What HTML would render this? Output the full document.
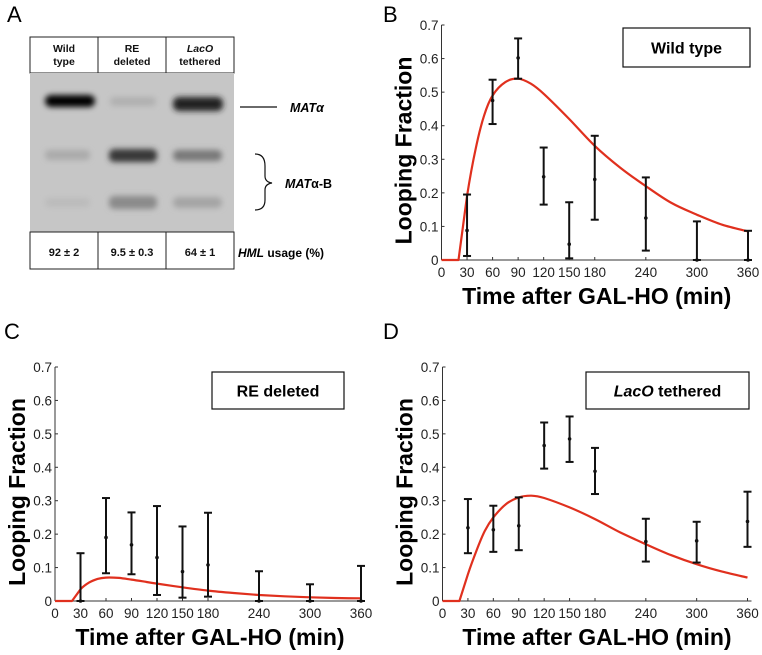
<!DOCTYPE html>
<html><head><meta charset="utf-8">
<style>
html,body{margin:0;padding:0;background:#fff;}
svg{display:block;font-family:"Liberation Sans",Arial,sans-serif;}
</style></head>
<body>
<svg id="fig" width="762" height="655" viewBox="0 0 762 655">
<defs>
<filter id="blur" x="-30%" y="-100%" width="160%" height="300%"><feGaussianBlur stdDeviation="3"/></filter>
</defs>
<g>
<text x="7" y="22" font-size="22">A</text>
<rect x="30" y="37" width="204" height="36" fill="#fff" stroke="#222" stroke-width="1"/>
<line x1="98" y1="37" x2="98" y2="73" stroke="#222"/>
<line x1="166" y1="37" x2="166" y2="73" stroke="#222"/>
<g font-size="10.5" font-weight="bold" text-anchor="middle" fill="#111">
<text x="64" y="52"><tspan x="64">Wild</tspan><tspan x="64" dy="13">type</tspan></text>
<text x="132" y="52"><tspan x="132">RE</tspan><tspan x="132" dy="13">deleted</tspan></text>
<text x="200" y="52"><tspan x="200" font-style="italic">LacO</tspan><tspan x="200" dy="13">tethered</tspan></text>
</g>
<rect x="30" y="73" width="204" height="159" fill="#c6c6c6"/>
<g filter="url(#blur)">
<rect x="45" y="95" width="50" height="12" rx="6" fill="#050505"/>
<rect x="110" y="97" width="46" height="9" rx="4" fill="#b0b0b0"/>
<rect x="173" y="97" width="50" height="14" rx="6" fill="#202020"/>
<rect x="45" y="150" width="45" height="10" rx="4" fill="#aaaaaa"/>
<rect x="109" y="149" width="48" height="13" rx="5" fill="#383838"/>
<rect x="173" y="150" width="49" height="11" rx="5" fill="#787878"/>
<rect x="45" y="198" width="45" height="9" rx="4" fill="#bbbbbb"/>
<rect x="109" y="196" width="48" height="13" rx="5" fill="#8a8a8a"/>
<rect x="173" y="197" width="49" height="11" rx="5" fill="#a4a4a4"/>
</g>
<rect x="30" y="232" width="204" height="37" fill="#fff" stroke="#222"/>
<line x1="98" y1="232" x2="98" y2="269" stroke="#222"/>
<line x1="166" y1="232" x2="166" y2="269" stroke="#222"/>
<g font-size="11" font-weight="bold" text-anchor="middle" fill="#111">
<text x="64" y="256">92 ± 2</text>
<text x="132" y="256">9.5 ± 0.3</text>
<text x="200" y="256">64 ± 1</text>
</g>
<text x="238" y="257" font-size="12" font-weight="bold"><tspan font-style="italic">HML</tspan> usage (%)</text>
<line x1="240" y1="107" x2="277" y2="107" stroke="#111" stroke-width="1.2"/>
<text x="290" y="112" font-size="12.5" font-weight="bold" font-style="italic">MATα</text>
<path d="M255,154 Q265,154 265,166 L265,176 Q265,182 272,183 Q265,184 265,190 L265,200 Q265,210 255,210" fill="none" stroke="#111" stroke-width="1.2"/>
<text x="285" y="188" font-size="12.5" font-weight="bold"><tspan font-style="italic">MAT</tspan>α-B</text>
</g>
<g id="pB"></g>
<g id="pC"></g>
<g id="pD"></g>
</svg>
<script>
const tickTimes = [0,30,60,90,120,150,180,240,300,360];
const tickFracs = [0,0.1,0.2,0.3,0.4,0.5,0.6,0.7];
const sampleTimes = [0,20,30,40,50,60,75,90,105,120,150,180,210,240,270,300,330,360];
const fitWild = [0,0,0.19,0.33,0.43,0.49,0.53,0.54,0.525,0.495,0.42,0.34,0.275,0.22,0.17,0.135,0.105,0.085];
const fitRE = [0,0,0.035,0.055,0.066,0.07,0.069,0.064,0.058,0.052,0.041,0.031,0.024,0.018,0.014,0.011,0.009,0.008];
const fitLacO = [0,0,0.08,0.15,0.21,0.25,0.29,0.31,0.315,0.308,0.28,0.245,0.205,0.17,0.137,0.11,0.088,0.07];
const obsTimes = [30,60,90,120,150,180,240,300,360];
const wildMean = [0.088,0.475,0.602,0.248,0.047,0.24,0.125,0,0];
const wildLow  = [0.012,0.405,0.54,0.165,0.005,0.12,0.028,0,0];
const wildHigh = [0.195,0.537,0.66,0.335,0.172,0.37,0.246,0.115,0.087];
const reMean = [0,0.19,0.168,0.13,0.088,0.108,0,0,0];
const reLow  = [0,0.083,0.08,0.018,0.01,0.013,0,0,0];
const reHigh = [0.143,0.308,0.265,0.284,0.223,0.264,0.089,0.05,0.105];
const lacMean = [0.219,0.213,0.225,0.465,0.485,0.388,0.178,0.18,0.238];
const lacLow  = [0.143,0.147,0.152,0.396,0.416,0.32,0.118,0.115,0.162];
const lacHigh = [0.305,0.285,0.31,0.534,0.552,0.458,0.246,0.237,0.327];

const NS="http://www.w3.org/2000/svg";
function mk(tag, attrs, parent){const e=document.createElementNS(NS,tag);for(const k in attrs)e.setAttribute(k,attrs[k]);parent.appendChild(e);return e;}

function smoothPath(pts){
  let d='M'+pts[0][0].toFixed(1)+','+pts[0][1].toFixed(1);
  for(let i=0;i<pts.length-1;i++){
    const p0=pts[Math.max(0,i-1)],p1=pts[i],p2=pts[i+1],p3=pts[Math.min(pts.length-1,i+2)];
    // keep flat segment before onset straight
    if(i<=1){d+='L'+p2[0].toFixed(1)+','+p2[1].toFixed(1);continue;}
    const c1=[p1[0]+(p2[0]-p0[0])/6,p1[1]+(p2[1]-p0[1])/6];
    const c2=[p2[0]-(p3[0]-p1[0])/6,p2[1]-(p3[1]-p1[1])/6];
    d+='C'+c1.map(v=>v.toFixed(1)).join(',')+' '+c2.map(v=>v.toFixed(1)).join(',')+' '+p2[0].toFixed(1)+','+p2[1].toFixed(1);
  }
  return d;
}

function panel(gid, letter, lx, ly, x0, x1, y0, y1, fit, mean, low, high, legendBox, legendHTML){
  const g=document.getElementById(gid);
  const X=t=>x0+(t/360)*(x1-x0);
  const Y=v=>y0-(v/0.7)*(y0-y1);
  const L=mk('text',{x:lx,y:ly,'font-size':22},g);L.textContent=letter;
  
  
  const ya=mk('line',{x1:x0,y1:y0,x2:x0,y2:y1,stroke:'#333','stroke-width':1},g);
  
  
  const xa=mk('line',{x1:x0,y1:y0,x2:x1+4,y2:y0,stroke:'#333','stroke-width':1},g);
  
  
  tickFracs.forEach(v=>{
    mk('line',{x1:x0,y1:Y(v),x2:x0+3,y2:Y(v),stroke:'#333'},g);
    const t=mk('text',{x:x0-3,y:Y(v)+5,'font-size':13.5,'text-anchor':'end',fill:'#222'},g);
    t.textContent=String(v);
    
    
  });
  tickTimes.forEach(v=>{
    mk('line',{x1:X(v),y1:y0,x2:X(v),y2:y0-3,stroke:'#333'},g);
    const t=mk('text',{x:X(v),y:y0+17,'font-size':13.5,'text-anchor':'middle',fill:'#222'},g);
    t.textContent=String(v);
    
    
  });
  const yt=mk('text',{transform:`translate(${x0-30},${(y0+y1)/2+8}) rotate(-90)`,'font-size':23,'font-weight':'bold','text-anchor':'middle'},g);
  yt.textContent='Looping Fraction';
  
  
  const xt=mk('text',{x:(x0+x1)/2+2,y:y0+44,'font-size':23,'font-weight':'bold','text-anchor':'middle'},g);
  xt.textContent='Time after GAL-HO (min)';
  
  
  const pts=sampleTimes.map((t,i)=>[X(t),Y(fit[i])]);
  const p=mk('path',{d:smoothPath(pts),fill:'none',stroke:'#e0301e','stroke-width':2.2,'stroke-linejoin':'round'},g);
  
  
  obsTimes.forEach((t,i)=>{
    const eg=mk('g',{stroke:'#111','stroke-width':2},g);
    
    
    const x=X(t);
    mk('line',{x1:x,y1:Y(low[i]),x2:x,y2:Y(high[i])},eg);
    mk('line',{x1:x-4,y1:Y(low[i]),x2:x+4,y2:Y(low[i])},eg);
    mk('line',{x1:x-4,y1:Y(high[i]),x2:x+4,y2:Y(high[i])},eg);
    mk('circle',{cx:x,cy:Y(mean[i]),r:1.8,fill:'#111',stroke:'none'},eg);
  });
  const lb=mk('rect',{x:legendBox[0],y:legendBox[1],width:legendBox[2],height:legendBox[3],fill:'#fff',stroke:'#111','stroke-width':1.2},g);
  
  
  const lt=mk('text',{x:legendBox[0]+legendBox[2]/2,y:legendBox[1]+legendBox[3]/2+6,'font-size':16,'font-weight':'bold','text-anchor':'middle'},g);
  lt.innerHTML=legendHTML;
  
  
}
panel('pB','B',383,22,441.5,748,260,25,fitWild,wildMean,wildLow,wildHigh,[623,28,127,39],'Wild type');
panel('pC','C',4,339,55,361,601,367,fitRE,reMean,reLow,reHigh,[212,372,132,37],'RE deleted');
panel('pD','D',383,339,442.5,747.5,601,367,fitLacO,lacMean,lacLow,lacHigh,[586,372,163,37],'<tspan font-style="italic">LacO</tspan> tethered');
</script>
</body></html>
